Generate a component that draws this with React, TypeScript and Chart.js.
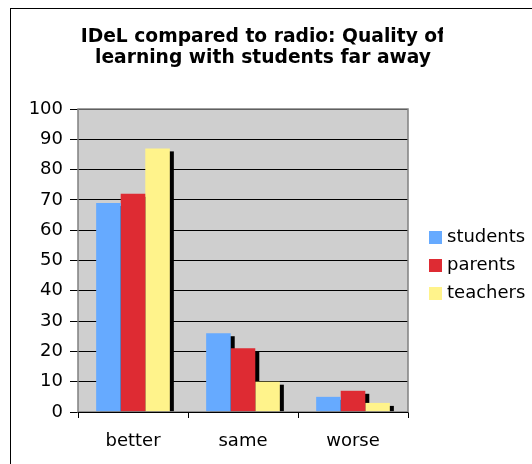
import React, { useEffect, useRef } from "react";
import { Chart, registerables } from "chart.js";

Chart.register(...registerables);

const categories = ["better", "same", "worse"];
const seriesNames = ["students", "parents", "teachers"];
const students = [69, 26, 5];
const parents = [72, 21, 7];
const teachers = [87, 10, 3];
const seriesColors = ["#66aaff", "#de2b33", "#fff38b"];
const titleLines = ["IDeL compared to radio: Quality of", "learning with students far away"];
const yTicks = [0, 10, 20, 30, 40, 50, 60, 70, 80, 90, 100];

const FONT = "'DejaVu Sans', Verdana, sans-serif";

const decorPlugin = {
  id: "decor",
  beforeDraw(chart: any) {
    const ctx = chart.ctx;
    const a = chart.chartArea;
    ctx.save();
    ctx.fillStyle = "#ffffff";
    ctx.fillRect(0, 0, chart.width, chart.height);
    // outer frame
    ctx.strokeStyle = "#000000";
    ctx.lineWidth = 1;
    ctx.strokeRect(10.5, 8.5, 700, 700);
    // plot background
    ctx.fillStyle = "#cfcfcf";
    ctx.fillRect(a.left, a.top, a.right - a.left, a.bottom - a.top);
    ctx.restore();
  },
  beforeDatasetsDraw(chart: any) {
    const ctx = chart.ctx;
    const a = chart.chartArea;
    ctx.save();
    ctx.beginPath();
    ctx.rect(a.left, a.top, a.right - a.left, a.bottom - a.top);
    ctx.clip();
    ctx.fillStyle = "#000000";
    chart.data.datasets.forEach((_: any, i: number) => {
      const meta = chart.getDatasetMeta(i);
      meta.data.forEach((bar: any) => {
        const left = bar.x - bar.width / 2 + 4;
        const top = bar.y + 3;
        ctx.fillRect(left, top, bar.width, bar.base - top);
      });
    });
    ctx.restore();
  },
  afterDraw(chart: any) {
    const ctx = chart.ctx;
    const a = chart.chartArea;
    ctx.save();
    // plot frame
    ctx.strokeStyle = "#808080";
    ctx.lineWidth = 1.5;
    ctx.strokeRect(a.left, a.top, a.right - a.left, a.bottom - a.top);
    ctx.strokeStyle = "#000000";
    ctx.lineWidth = 1;
    ctx.beginPath();
    ctx.moveTo(a.left, a.bottom + 0.5);
    ctx.lineTo(a.right, a.bottom + 0.5);
    ctx.stroke();
    // title
    ctx.beginPath();
    ctx.rect(0, 0, 443, 100);
    ctx.clip();
    ctx.fillStyle = "#000000";
    ctx.font = "bold 18.7px " + FONT;
    ctx.textAlign = "center";
    ctx.textBaseline = "middle";
    ctx.fillText(titleLines[0], 263, 37);
    ctx.fillText(titleLines[1], 263, 58);
    ctx.restore();
    // legend
    ctx.save();
    ctx.font = "18px " + FONT;
    ctx.textAlign = "left";
    ctx.textBaseline = "middle";
    seriesNames.forEach((name, i) => {
      const cy = 237.5 + i * 28;
      ctx.fillStyle = seriesColors[i];
      ctx.fillRect(429, cy - 6.5, 13, 13);
      ctx.fillStyle = "#000000";
      ctx.fillText(name, 447, cy);
    });
    ctx.restore();
  },
};

export default function App() {
  const ref = useRef<HTMLCanvasElement>(null);
  useEffect(() => {
    if (!ref.current) return;
    const values = [students, parents, teachers];
    const chart = new Chart(ref.current, {
      type: "bar",
      data: {
        labels: categories,
        datasets: seriesNames.map((name, i) => ({
          label: name,
          data: values[i],
          backgroundColor: seriesColors[i],
          borderWidth: 0,
          barPercentage: 1,
          categoryPercentage: 0.67,
        })),
      },
      options: {
        animation: false,
        responsive: false,
        devicePixelRatio: 1,
        layout: { padding: { top: 109, left: 0, right: 124, bottom: 0 } },
        plugins: {
          legend: { display: false },
          title: { display: false },
          tooltip: { enabled: false },
        },
        scales: {
          x: {
            afterFit: (s: any) => {
              s.height = 52;
            },
            grid: {
              offset: true,
              drawOnChartArea: false,
              drawTicks: true,
              tickLength: 6,
              color: "#000000",
            },
            border: { display: false },
            ticks: {
              color: "#000000",
              font: { family: FONT, size: 18 },
              padding: 13,
            },
          },
          y: {
            min: 0,
            max: 100,
            afterFit: (s: any) => {
              s.width = 78;
            },
            afterBuildTicks: (s: any) => {
              s.ticks = yTicks.map((v) => ({ value: v }));
            },
            grid: {
              color: "#000000",
              lineWidth: 1,
              tickLength: 8,
            },
            border: { display: false },
            ticks: {
              color: "#000000",
              font: { family: FONT, size: 18 },
              padding: 7,
            },
          },
        },
      },
      plugins: [decorPlugin],
    });
    return () => chart.destroy();
  }, []);
  return (
    <div style={{ position: "fixed", left: 0, top: 0, width: 532, height: 464 }}>
      <canvas ref={ref} width={532} height={464} style={{ width: 532, height: 464 }} />
    </div>
  );
}
